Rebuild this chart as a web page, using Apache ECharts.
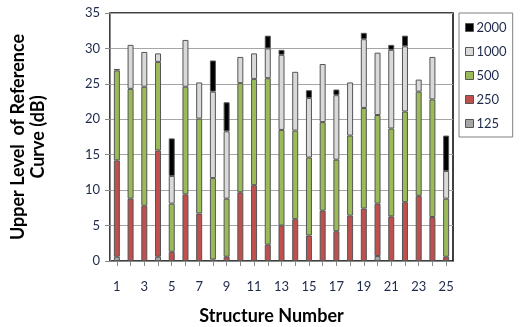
<!DOCTYPE html>
<html>
<head>
<meta charset="utf-8">
<script src="https://cdn.jsdelivr.net/npm/echarts@6/dist/echarts.min.js"></script>
<style>
  html, body { margin: 0; padding: 0; background: #fff; }
  #chart { width: 528px; height: 327px; }
</style>
</head>
<body>
<div id="chart"></div>
<script>
// Structure numbers along the x axis
var structures = ['1','2','3','4','5','6','7','8','9','10','11','12','13','14','15','16','17','18','19','20','21','22','23','24','25'];

// Contribution of each octave band (dB), stacked from 125 Hz upwards
var band125  = [0.6, 0, 0, 0.6, 0, 0, 0, 0, 0, 0, 0, 0, 0, 0, 0, 0, 0, 0, 0, 0.7, 0, 0, 0, 0, 0];
var band250  = [13.6, 8.8, 7.8, 15.0, 1.3, 9.4, 6.7, 0.2, 0.6, 9.7, 10.7, 2.3, 5.0, 5.9, 3.6, 7.1, 4.2, 6.4, 7.4, 7.4, 6.3, 8.3, 9.2, 6.2, 0.6];
var band500  = [12.7, 15.5, 16.8, 12.5, 6.8, 15.2, 13.4, 11.5, 8.2, 15.4, 15.0, 23.5, 13.5, 12.5, 11.0, 12.5, 10.1, 11.3, 14.2, 12.5, 12.4, 12.8, 14.7, 16.6, 8.2];
var band1000 = [0, 6.2, 4.9, 1.2, 3.9, 6.6, 5.1, 12.2, 9.5, 3.7, 3.6, 4.2, 10.6, 8.3, 8.4, 8.2, 9.1, 7.5, 9.7, 8.8, 11.1, 9.2, 1.7, 6.0, 3.9];
var band2000 = [0.2, 0, 0, 0, 5.3, 0, 0, 4.4, 4.1, 0, 0, 1.8, 0.7, 0, 1.1, 0, 0.8, 0, 0.9, 0, 0.7, 1.5, 0, 0, 5.0];

var seriesNames = ['125', '250', '500', '1000', '2000'];
var seriesData = [band125, band250, band500, band1000, band2000];
var seriesColors = ['#a6a6a6', '#c0504d', '#9bbb59', '#d9d9d9', '#000000'];

var FONT = 'Lato, "Open Sans", sans-serif';

var chart = echarts.init(document.getElementById('chart'), null, { renderer: 'canvas' });

var series = seriesNames.map(function (name, i) {
  return {
    name: name,
    type: 'bar',
    stack: 'level',
    barWidth: 6,
    itemStyle: {
      color: seriesColors[i],
      borderColor: '#555555',
      borderWidth: 1
    },
    data: seriesData[i].map(function (v) { return v > 0 ? v : '-'; })
  };
});

chart.setOption({
  animation: false,
  backgroundColor: '#ffffff',
  textStyle: { fontFamily: FONT },
  grid: {
    left: 110,
    top: 13,
    right: 75,
    bottom: 66,
    outerBoundsMode: 'none',
    containLabel: false,
    show: true,
    borderColor: '#000000',
    borderWidth: 1.5,
    backgroundColor: 'transparent'
  },
  legend: {
    orient: 'vertical',
    left: 459,
    top: 13,
    width: 61,
    padding: [8, 6, 7, 6],
    data: ['2000', '1000', '500', '250', '125'],
    itemWidth: 8,
    itemHeight: 8,
    itemGap: 11,
    icon: 'rect',
    borderColor: '#808080',
    borderWidth: 1,
    textStyle: { fontSize: 13, color: '#1e2a4a', fontFamily: FONT, padding: [0, 0, 0, -2] },
    itemStyle: { borderColor: '#555555', borderWidth: 1 }
  },
  xAxis: {
    type: 'category',
    data: structures,
    boundaryGap: true,
    name: 'Structure Number',
    nameLocation: 'middle',
    nameGap: 46,
    nameTextStyle: { fontSize: 18, fontWeight: 'bold', color: '#000', fontFamily: FONT, padding: [0, 20, 0, 0] },
    axisLine: { lineStyle: { color: '#888888', width: 1 } },
    axisTick: { show: true, alignWithLabel: true, interval: 0, length: 5, lineStyle: { color: '#888888' } },
    axisLabel: { interval: 1, fontSize: 13, color: '#1e2a4a', margin: 19, fontFamily: FONT }
  },
  yAxis: {
    type: 'value',
    min: 0,
    max: 35,
    interval: 5,
    name: 'Upper Level  of Reference\nCurve (dB)',
    nameLocation: 'middle',
    nameRotate: 90,
    nameGap: 62,
    nameTextStyle: { fontSize: 18, fontWeight: 'bold', color: '#000', lineHeight: 20, fontFamily: FONT },
    axisLine: { show: true, lineStyle: { color: '#888888', width: 1 } },
    axisTick: { show: true, length: 5, lineStyle: { color: '#888888' } },
    axisLabel: { fontSize: 13, color: '#1e2a4a', margin: 10, fontFamily: FONT },
    splitLine: { show: true, lineStyle: { color: '#a6a6a6', width: 1 } }
  },
  series: series
});
</script>
</body>
</html>
